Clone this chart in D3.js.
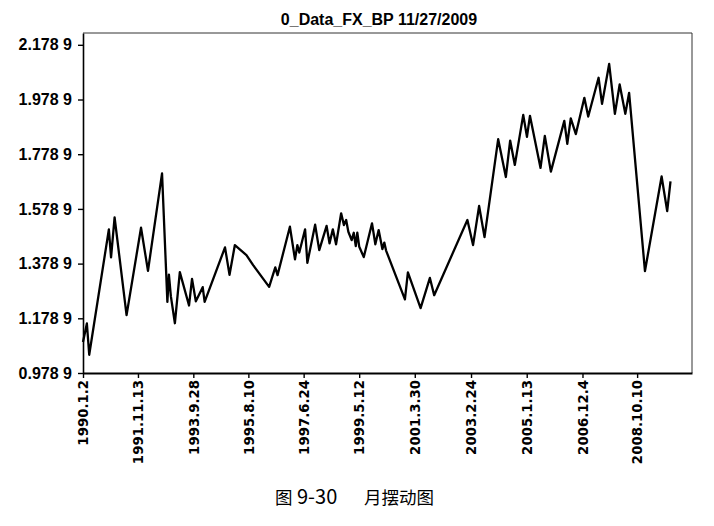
<!DOCTYPE html>
<html lang="zh">
<head>
    <meta charset="UTF-8">
    <script src="https://d3js.org/d3.v7.min.js"></script>
    <title>月摆动图</title>
    <style>
    body {margin: 0; background: #fff;}
    svg text {fill: #000;}
    .title {font-family: "Liberation Sans", Arial, sans-serif; font-weight: bold; font-size: 16px;}
    .y-axis text {font-family: "Liberation Sans", Arial, sans-serif; font-weight: bold; font-size: 16px;}
    .x-axis text {font-family: "DejaVu Sans", Verdana, sans-serif; font-weight: bold; font-size: 13.3px;}
    .caption {font-family: "Noto Sans CJK SC", sans-serif; font-size: 17.5px;}
    </style>
</head>
<body>
    <svg id="chart"></svg>
    <script>

        var chartTitle = "0_Data_FX_BP 11/27/2009";
        var caption = ["图", "9-30", "月摆动图"];

        // swing points
        var swingDates = [
            "1990-01-02","1990-02-19","1990-03-20","1990-11-18","1990-12-15","1991-01-28","1991-06-25","1991-12-21",
            "1992-03-16","1992-09-06","1992-11-11","1992-11-30","1992-12-24","1993-02-12","1993-04-14","1993-08-06",
            "1993-09-12","1993-10-29","1994-01-22","1994-02-15","1994-10-25","1994-12-20","1995-02-24","1995-07-17",
            "1995-10-08","1996-04-23","1996-07-08","1996-08-05","1997-01-05","1997-03-09","1997-04-07","1997-05-01",
            "1997-07-12","1997-08-09","1997-11-13","1998-01-03","1998-04-04","1998-05-10","1998-06-20","1998-07-30",
            "1998-10-01","1998-11-04","1998-12-02","1998-12-29","1999-02-08","1999-03-06","1999-03-31","1999-04-19",
            "1999-05-13","1999-07-08","1999-10-18","1999-11-28","2000-01-08","2000-02-23","2000-03-18","2000-04-09",
            "2000-11-28","2001-01-04","2001-06-10","2001-10-03","2001-11-25","2003-01-10","2003-03-21","2003-06-04",
            "2003-08-10","2004-01-26","2004-04-30","2004-06-22","2004-08-19","2004-12-01","2005-01-16","2005-02-22",
            "2005-07-03","2005-08-25","2005-11-08","2006-04-23","2006-05-30","2006-07-12","2006-09-13","2006-12-27",
            "2007-02-13","2007-06-21","2007-08-03","2007-10-30","2008-01-09","2008-03-08","2008-05-17","2008-07-03",
            "2009-01-15","2009-08-09","2009-10-17","2009-11-27"
        ];
        var swingValues = [
            1.0925,1.1599,1.0456,1.5042,1.4016,1.5481,1.1903,1.5100,
            1.3525,1.7086,1.2390,1.3386,1.2599,1.1609,1.3478,1.2258,
            1.3229,1.2408,1.2928,1.2390,1.4382,1.3379,1.4467,1.4100,
            1.3734,1.2939,1.3650,1.3368,1.5137,1.3943,1.4467,1.4192,
            1.5042,1.3818,1.5210,1.4284,1.5170,1.4529,1.5042,1.4496,
            1.5628,1.5199,1.5382,1.4954,1.4650,1.4917,1.4430,1.4917,
            1.4404,1.4027,1.5262,1.4496,1.5016,1.4320,1.4558,1.4265,
            1.2478,1.3470,1.2159,1.3265,1.2635,1.5382,1.4467,1.5895,
            1.4760,1.8338,1.6957,1.8287,1.7397,1.9229,1.8423,1.9192,
            1.7287,1.8459,1.7152,1.9009,1.8166,1.9100,1.8525,1.9851,
            1.9166,2.0584,1.9631,2.1089,1.9265,2.0338,1.9265,2.0034,
            1.3514,1.6976,1.5712,1.6793
        ];

        var xTickLabels = ["1990.1.2","1991.11.13","1993.9.28","1995.8.10","1997.6.24","1999.5.12",
                           "2001.3.30","2003.2.24","2005.1.13","2006.12.4","2008.10.10"];
        var yTickValues = [0.9789, 1.1789, 1.3789, 1.5789, 1.7789, 1.9789, 2.1789];

        var svgW = 714, svgH = 526;
        var plotL = 83, plotR = 692, plotT = 33, plotB = 373;

        var parseDate = d3.timeParse("%Y-%m-%d");
        var data = swingDates.map(function(d, i) { return {date: parseDate(d), value: swingValues[i]}; });
        var tickDates = xTickLabels.map(function(s) {
            var p = s.split(".");
            return new Date(+p[0], +p[1] - 1, +p[2]);
        });

        var x = d3.scaleTime()
            .domain([new Date(1990, 0, 2), new Date(2010, 7, 20)])
            .range([plotL, plotR]);
        var y = d3.scaleLinear()
            .domain([0.9789, 2.2221])
            .range([plotB, plotT]);

        var svg = d3.select("#chart")
            .attr("width", svgW)
            .attr("height", svgH);

        svg.append("rect").attr("width", svgW).attr("height", svgH).attr("fill", "#fff");

        // thin top/right frame
        svg.append("path")
            .attr("d", "M" + plotL + "," + plotT + "H" + plotR + "V" + plotB)
            .attr("fill", "none")
            .attr("stroke", "#333")
            .attr("stroke-width", 1);

        function fmt(v) {
            var s = v.toFixed(4);
            return s.slice(0, 5) + " " + s.slice(5);
        }

        var yAxis = svg.append("g")
            .attr("class", "y-axis")
            .attr("transform", "translate(" + plotL + ",0)")
            .call(d3.axisLeft(y).tickValues(yTickValues).tickFormat(fmt).tickSize(5).tickPadding(6).tickSizeOuter(0));
        yAxis.select(".domain").attr("stroke-width", 1.6);
        yAxis.selectAll(".tick line").attr("stroke-width", 1.4);
        yAxis.attr("font-family", null).attr("font-size", null);

        var xAxis = svg.append("g")
            .attr("class", "x-axis")
            .attr("transform", "translate(0," + plotB + ")")
            .call(d3.axisBottom(x).tickValues(tickDates).tickFormat(function(d, i) { return xTickLabels[i]; })
                .tickSize(5).tickSizeOuter(0));
        xAxis.select(".domain").attr("stroke-width", 1.8);
        xAxis.selectAll(".tick line").attr("stroke-width", 1.4);
        xAxis.attr("font-family", null).attr("font-size", null);
        xAxis.selectAll(".tick text")
            .attr("transform", "rotate(-90)")
            .attr("y", 0)
            .attr("x", -7)
            .attr("dy", "0.36em")
            .style("text-anchor", "end");

        var line = d3.line()
            .x(function(d) { return x(d.date); })
            .y(function(d) { return y(d.value); });

        svg.append("path")
            .datum(data)
            .attr("d", line)
            .attr("fill", "none")
            .attr("stroke", "#000")
            .attr("stroke-width", 2.3)
            .attr("stroke-linejoin", "round");

        svg.append("text")
            .attr("class", "title")
            .attr("x", 379)
            .attr("y", 25)
            .attr("text-anchor", "middle")
            .text(chartTitle);

        // caption: "图 9-30   月摆动图"
        svg.append("text")
            .attr("class", "caption")
            .attr("x", 275)
            .attr("y", 504)
            .text(caption[0]);
        svg.append("text")
            .attr("class", "caption")
            .attr("x", 297)
            .attr("y", 504)
            .style("font-size", "20px")
            .text(caption[1]);
        svg.append("text")
            .attr("class", "caption")
            .attr("x", 434)
            .attr("y", 504)
            .attr("text-anchor", "end")
            .text(caption[2]);

    </script>
</body>
</html>
